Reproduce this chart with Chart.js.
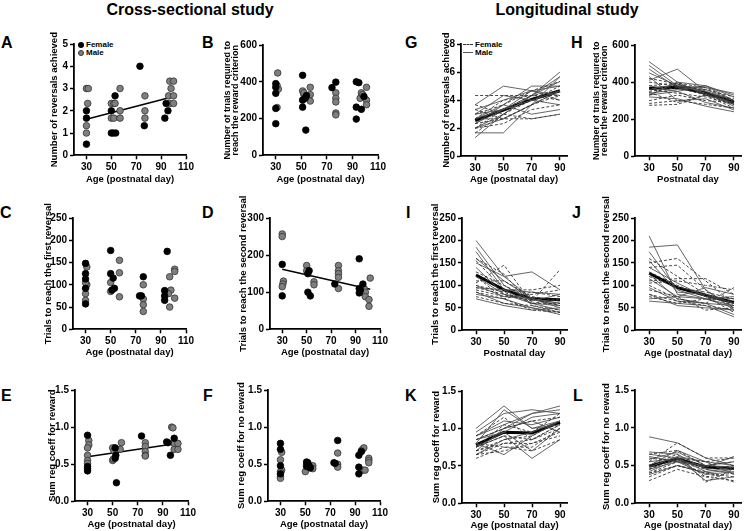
<!DOCTYPE html>
<html>
<head>
<meta charset="utf-8">
<script src="https://cdn.jsdelivr.net/npm/chart.js@4.4.1/dist/chart.umd.min.js"></script>
<style>
  body { margin: 0; width: 750px; height: 531px; overflow: hidden; background: #fff; position: relative; font-family: "Liberation Sans", Arial, sans-serif; }
  canvas { position: absolute; }
  .head { position: absolute; top: 1px; font-weight: bold; font-size: 16px; transform: translateX(-50%); white-space: nowrap; }
  .letter { position: absolute; font-weight: bold; font-size: 16px; line-height: 16px; }
  .lg { position: absolute; font-weight: bold; font-size: 8px; line-height: 8px; white-space: nowrap; }
  .dot { display: inline-block; width: 6px; height: 6px; border-radius: 50%; margin-right: 2px; vertical-align: -0.5px; box-sizing: border-box; }
  .dot.f { background: #000; }
  .dot.m { background: #7f7f7f; border: 1px solid #333; }
  .ln { display: inline-block; width: 10px; margin-right: 2px; vertical-align: 2px; }
  .ln.f { border-top: 1px dashed #333; }
  .ln.m { border-top: 1px solid #555; }
</style>
</head>
<body>
<div class="head" style="left:190px">Cross-sectional study</div>
<div class="head" style="left:567px">Longitudinal study</div>

<div class="letter" style="left:1px;top:35px">A</div>
<div class="letter" style="left:202px;top:35px">B</div>
<div class="letter" style="left:0px;top:205px">C</div>
<div class="letter" style="left:202px;top:205px">D</div>
<div class="letter" style="left:1px;top:388px">E</div>
<div class="letter" style="left:203px;top:388px">F</div>
<div class="letter" style="left:405px;top:35px">G</div>
<div class="letter" style="left:571px;top:35px">H</div>
<div class="letter" style="left:406px;top:205px">I</div>
<div class="letter" style="left:572px;top:205px">J</div>
<div class="letter" style="left:405px;top:388px">K</div>
<div class="letter" style="left:573px;top:388px">L</div>

<div class="lg" style="left:78px;top:41px"><span class="dot f"></span>Female<br><span class="dot m"></span>Male</div>
<div class="lg" style="left:463px;top:41px"><span class="ln f"></span>Female<br><span class="ln m"></span>Male</div>

<script>
// ---- cross-sectional data: [age, value] ----
const aFemale = [[30,0.5],[30,1.67],[30,2.0],[50,1.0],[51.5,1.0],[53.5,1.0],[50,2.0],[53,2.67],[73,4.0],[76.5,1.33],[93,1.67],[94,2.33],[95.5,2.0]];
const aMale = [[30,1.0],[30,1.33],[31,2.33],[30,3.0],[31.5,3.0],[50,1.67],[52,1.67],[50,2.33],[52,2.33],[53,2.33],[57,1.67],[57,2.0],[57,3.0],[77,1.67],[77,2.0],[77,2.67],[97,3.33],[100,3.33],[98,3.0],[96,2.67],[100,2.67],[97,2.33],[100,2.33]];
const aFit = [[30,1.62],[101,2.65]];

const bFemale = [[30,390],[30,370],[30,337],[30,255],[30,172],[51,435],[51,300],[53,310],[54,325],[51,262],[53.5,137],[77,398],[74,368],[93,400],[95,395],[93,262],[93,197],[97,250],[99,320]];
const bMale = [[31.5,448],[31,380],[32,360],[31,260],[51,350],[52,330],[52,340],[57,370],[57,330],[57,295],[77,340],[77,310],[77,290],[77,230],[77,220],[97,340],[96,310],[98,330],[101,370],[101,300],[101,275]];

const cFemale = [[30,148],[30,125],[30,113],[30,92],[30,57],[50,177],[50,125],[52,115],[53,92],[51,88],[76,118],[73,75],[74.5,75],[95,175],[93,87],[93,75],[93,65]];
const cMale = [[31,140],[31,100],[30,80],[30,65],[30,105],[50,105],[50,85],[57,155],[57,127],[57,73],[76,100],[76,68],[76,55],[76,40],[97,118],[98,88],[96,80],[97,50],[101,135],[101,130],[101,70]];

const dFemale = [[30,175],[30,90],[52,158],[51,150],[51,100],[53,90],[73,122],[93,190],[96,122],[93,110],[94,105],[93,98]];
const dMale = [[30,257],[30,250],[31,130],[30.5,122],[30,115],[50,172],[50,158],[56,128],[56,120],[76,172],[76,158],[76,150],[76,140],[76,110],[97,110],[98,100],[98,88],[101,80],[101,62],[102,138]];
const dFit = [[30,162],[102,108]];

const eFemale = [[30,0.89],[30,0.47],[30,0.44],[30,0.41],[52,0.72],[52.5,0.62],[52,0.58],[53,0.25],[73,0.88],[93,0.8],[94,0.79],[99,0.85],[96,0.62]];
const eMale = [[31,0.82],[31,0.76],[30,0.72],[30,0.62],[30,0.55],[30,0.51],[50,0.72],[51,0.68],[50,0.55],[50.5,0.57],[57,0.79],[56,0.7],[76,0.79],[76,0.74],[76,0.67],[76,0.62],[76,0.61],[97,1.0],[98,0.99],[99,0.78],[99,0.7],[102,0.7],[102,0.78]];
const eFit = [[30,0.6],[101,0.78]];

const fFemale = [[30,0.78],[30,0.7],[30,0.48],[30,0.37],[51,0.53],[52,0.52],[53,0.48],[54,0.45],[51,0.47],[76,0.82],[73,0.52],[74,0.51],[93,0.62],[95,0.67],[93,0.46],[93,0.37]];
const fMale = [[31,0.66],[30,0.56],[31,0.42],[30,0.4],[30,0.33],[30,0.31],[51,0.5],[52,0.45],[50,0.4],[56,0.48],[56,0.44],[76,0.65],[76,0.5],[76,0.46],[96,0.7],[97,0.72],[95,0.68],[96,0.42],[98,0.42],[101,0.58],[101,0.55],[101,0.52]];

// ---- longitudinal data: one row per animal at these ages ----
const ages = [30, 50, 70, 90];

const gFemale = [[4.33,4.33,4.33,4.67],[3.67,3.0,2.67,3.0],[2.67,2.67,2.67,3.0],[2.0,3.33,4.33,4.0],[2.33,2.67,3.67,4.33],[3.0,3.67,4.67,5.33],[1.67,3.0,4.0,5.0],[2.67,4.0,4.33,4.33],[3.33,2.67,3.67,4.67],[2.0,2.33,3.33,3.67]];
const gMale = [[3.67,5.0,4.67,4.0],[1.67,1.67,3.67,5.67],[1.33,3.0,4.33,6.0],[2.33,3.67,5.0,5.0],[3.0,4.33,4.0,3.67],[2.67,3.33,4.33,5.33],[2.0,2.67,3.67,4.67],[3.33,4.0,4.67,4.33],[2.67,3.67,3.0,3.33],[2.0,3.0,4.33,5.67],[3.0,3.33,4.67,5.0],[2.33,3.33,4.0,4.67]];
const gMean = [2.55, 3.3, 4.05, 4.67];

const hFemale = [[420,390,350,300],[400,380,360,320],[380,395,370,300],[360,340,320,280],[345,290,330,300],[330,390,330,260],[300,330,300,290],[285,300,280,260],[275,280,330,280],[350,370,330,310]];
const hMale = [[510,400,330,290],[490,380,350,280],[470,370,360,300],[450,380,370,340],[430,300,310,250],[410,470,350,300],[340,360,380,330],[330,350,380,320],[320,310,270,240],[360,390,340,270],[330,400,380,300],[380,350,290,260]];
const hMean = [365, 372, 342, 290];

const iFemale = [[105,145,60,70],[95,80,65,135],[85,70,45,40],[110,110,75,65],[155,90,90,100],[130,100,70,55],[75,60,55,45],[100,85,60,60],[90,75,80,90],[160,125,55,40],[120,70,85,75]];
const iMale = [[200,120,70,50],[185,100,65,80],[175,90,60,55],[150,120,130,90],[140,80,70,60],[120,80,60,45],[100,75,70,55],[85,60,50,40],[80,70,50,35],[70,55,45,50],[95,90,85,80],[160,110,70,60]];
const iMean = [123, 90, 70, 68];

const jFemale = [[150,160,110,60],[140,145,90,50],[110,115,115,80],[100,70,60,95],[90,75,45,50],[120,95,85,70],[80,65,55,45],[160,120,80,55],[105,110,100,90],[75,60,70,65],[130,100,75,40]];
const jMale = [[210,80,70,50],[185,190,90,45],[155,85,80,60],[125,70,60,35],[115,75,95,80],[95,65,60,55],[80,55,50,45],[70,75,70,75],[65,60,55,30],[140,105,75,70],[175,90,70,55]];
const jMean = [127, 95, 78, 62];

const kFemale = [[0.7,0.8,0.85,1.0],[0.65,0.8,0.8,0.95],[0.75,0.9,0.85,1.05],[0.8,0.75,0.75,1.0],[0.7,0.85,0.9,1.1],[0.85,1.0,1.1,1.15],[0.65,0.7,0.8,0.9],[0.75,1.05,0.95,1.2],[0.9,1.15,0.85,1.05],[0.6,0.75,0.7,0.85]];
const kMale = [[1.0,1.3,1.0,1.1],[0.95,1.2,1.25,1.2],[0.85,1.0,1.2,1.3],[0.8,0.65,0.9,1.1],[0.75,0.9,0.6,0.85],[0.9,1.1,1.05,1.15],[0.7,1.0,1.1,0.95],[0.8,1.25,1.0,1.05],[0.85,0.95,0.7,1.0],[0.65,0.85,0.95,1.1],[0.9,1.05,1.2,1.25],[0.75,0.95,1.15,1.2]];
const kMean = [0.78, 0.95, 0.94, 1.08];

const lFemale = [[0.3,0.45,0.35,0.3],[0.4,0.55,0.45,0.5],[0.45,0.6,0.55,0.6],[0.5,0.65,0.28,0.45],[0.35,0.5,0.4,0.35],[0.55,0.8,0.6,0.6],[0.6,0.55,0.5,0.55],[0.45,0.6,0.35,0.4],[0.65,0.7,0.5,0.45],[0.4,0.5,0.42,0.28]];
const lMale = [[0.88,0.8,0.6,0.5],[0.68,0.65,0.45,0.4],[0.62,0.55,0.5,0.55],[0.55,0.6,0.42,0.48],[0.5,0.7,0.55,0.38],[0.42,0.58,0.48,0.62],[0.38,0.5,0.4,0.45],[0.65,0.6,0.3,0.35],[0.48,0.62,0.55,0.5],[0.45,0.55,0.38,0.42],[0.58,0.68,0.5,0.48]];
const lMean = [0.49, 0.59, 0.48, 0.46];

const crossTicks = [30, 50, 70, 90, 110];
const longTicks = [30, 50, 70, 90];
const ageTitle = 'Age (postnatal day)';

Chart.defaults.font.family = '"Liberation Sans", Arial, sans-serif';
Chart.defaults.font.weight = 'bold';
Chart.defaults.color = '#000';

const toXY = pts => pts.map(p => ({x: p[0], y: p[1]}));

function scatterSets(female, male, fit) {
    const sets = [
        {data: toXY(female), backgroundColor: '#000', borderColor: '#000', borderWidth: 0.8, pointRadius: 3.3},
        {data: toXY(male), backgroundColor: '#7f7f7f', borderColor: '#333', borderWidth: 0.8, pointRadius: 3.3}
    ];
    if (fit) {
        sets.push({type: 'line', data: toXY(fit), borderColor: '#000', borderWidth: 1.5, pointRadius: 0});
    }
    return sets;
}

function lineSets(female, male, mean) {
    const sets = [];
    female.forEach(row => sets.push({data: row.map((v, i) => ({x: ages[i], y: v})), borderColor: '#333', borderWidth: 0.9, borderDash: [3, 2], pointRadius: 0}));
    male.forEach(row => sets.push({data: row.map((v, i) => ({x: ages[i], y: v})), borderColor: '#555', borderWidth: 0.9, pointRadius: 0}));
    sets.push({data: mean.map((v, i) => ({x: ages[i], y: v})), borderColor: '#000', borderWidth: 3, pointRadius: 0});
    return sets;
}

function panel(p) {
    const tSize = p.tSize || 9.5;
    const lhY = tSize * (p.yLine || 1.2);
    const lhX = 9.5 * 1.2;
    const padTop = 30, padBottom = 30, padRight = 12;
    const left = Math.round(p.titleX - lhY / 2);
    const yw = p.axisX - left;
    const xh = p.xTitleY + lhX / 2 - p.bottom;
    const w = Math.round(yw + p.right - p.axisX + padRight);
    const h = Math.round(padTop + p.bottom - p.top + xh + padBottom);

    const cv = document.createElement('canvas');
    cv.width = w;
    cv.height = h;
    cv.style.left = left + 'px';
    cv.style.top = (p.top - padTop) + 'px';
    cv.style.width = w + 'px';
    cv.style.height = h + 'px';
    document.body.appendChild(cv);

    const gridOpts = {display: true, drawOnChartArea: false, tickLength: 4, tickWidth: 1.5, tickColor: '#000'};
    const borderOpts = {display: true, color: '#000', width: 1.8};

    new Chart(cv.getContext('2d'), {
        type: p.type,
        data: {datasets: p.datasets},
        options: {
            responsive: false,
            animation: false,
            devicePixelRatio: 1,
            layout: {padding: {top: padTop, right: padRight, bottom: padBottom, left: 0}},
            plugins: {legend: {display: false}, tooltip: {enabled: false}},
            elements: {line: {tension: 0}},
            scales: {
                x: {
                    type: 'linear',
                    min: p.xMin,
                    max: p.xMax,
                    afterBuildTicks: s => { s.ticks = p.xTicks.map(v => ({value: v})); },
                    afterFit: s => { s.height = xh; },
                    grid: gridOpts,
                    border: borderOpts,
                    ticks: {font: {size: 10, weight: 'bold'}, color: '#000', padding: 2, maxRotation: 0, autoSkip: false},
                    title: {display: true, text: p.xTitle, font: {size: 9.5, weight: 'bold'}, color: '#000', padding: 0}
                },
                y: {
                    min: p.yMin,
                    max: p.yMax,
                    afterFit: s => { s.width = yw; },
                    grid: gridOpts,
                    border: borderOpts,
                    ticks: {
                        stepSize: p.yStep,
                        font: {size: 10, weight: 'bold'},
                        color: '#000',
                        padding: 2,
                        callback: v => p.yDec ? v.toFixed(p.yDec) : v
                    },
                    title: {display: true, text: p.yTitle, font: {size: tSize, weight: 'bold', lineHeight: p.yLine || 1.2}, color: '#000', padding: 0}
                }
            }
        }
    });
}

// cross-sectional column
panel({type: 'scatter', axisX: 74, top: 44, right: 186, bottom: 155, titleX: 55, xTitleY: 179,
    xMin: 20, xMax: 110, xTicks: crossTicks, xTitle: ageTitle, yMin: 0, yMax: 5, yStep: 1,
    yTitle: 'Number of reversals achieved', datasets: scatterSets(aFemale, aMale, aFit)});
panel({type: 'scatter', axisX: 263, top: 45, right: 378, bottom: 155, titleX: 228, xTitleY: 179, tSize: 9, yLine: 0.85,
    xMin: 20, xMax: 110, xTicks: crossTicks, xTitle: ageTitle, yMin: 0, yMax: 600, yStep: 200,
    yTitle: ['Number of trials required to', 'reach the reward criterion'], datasets: scatterSets(bFemale, bMale)});
panel({type: 'scatter', axisX: 73, top: 218, right: 186, bottom: 329, titleX: 49, xTitleY: 352,
    xMin: 20, xMax: 110, xTicks: crossTicks, xTitle: ageTitle, yMin: 0, yMax: 250, yStep: 50,
    yTitle: 'Trials to reach the first reversal', datasets: scatterSets(cFemale, cMale)});
panel({type: 'scatter', axisX: 270, top: 218, right: 380, bottom: 329, titleX: 244, xTitleY: 352,
    xMin: 20, xMax: 110, xTicks: crossTicks, xTitle: ageTitle, yMin: 0, yMax: 300, yStep: 100,
    yTitle: 'Trials to reach the second reversal', datasets: scatterSets(dFemale, dMale, dFit)});
panel({type: 'scatter', axisX: 75, top: 390, right: 188, bottom: 501, titleX: 53, xTitleY: 524,
    xMin: 20, xMax: 110, xTicks: crossTicks, xTitle: ageTitle, yMin: 0, yMax: 1.5, yStep: 0.5, yDec: 1,
    yTitle: 'Sum reg coeff for reward', datasets: scatterSets(eFemale, eMale, eFit)});
panel({type: 'scatter', axisX: 268, top: 390, right: 380, bottom: 501, titleX: 242, xTitleY: 524,
    xMin: 20, xMax: 110, xTicks: crossTicks, xTitle: ageTitle, yMin: 0, yMax: 1.5, yStep: 0.5, yDec: 1,
    yTitle: 'Sum reg coeff for no reward', datasets: scatterSets(fFemale, fMale)});

// longitudinal column
panel({type: 'line', axisX: 461, top: 44, right: 567, bottom: 156, titleX: 447, xTitleY: 179,
    xMin: 20, xMax: 95, xTicks: longTicks, xTitle: ageTitle, yMin: 0, yMax: 8, yStep: 2,
    yTitle: 'Number of reversals achieved', datasets: lineSets(gFemale, gMale, gMean)});
panel({type: 'line', axisX: 635, top: 45, right: 741, bottom: 156, titleX: 597, xTitleY: 179, tSize: 9, yLine: 0.85,
    xMin: 20, xMax: 95, xTicks: longTicks, xTitle: 'Postnatal day', yMin: 0, yMax: 600, yStep: 200,
    yTitle: ['Number of trials required to', 'reach the reward criterion'], datasets: lineSets(hFemale, hMale, hMean)});
panel({type: 'line', axisX: 462, top: 218, right: 567, bottom: 330, titleX: 436, xTitleY: 353,
    xMin: 20, xMax: 95, xTicks: longTicks, xTitle: 'Postnatal day', yMin: 0, yMax: 250, yStep: 50,
    yTitle: 'Trials to reach the first reversal', datasets: lineSets(iFemale, iMale, iMean)});
panel({type: 'line', axisX: 635, top: 218, right: 741, bottom: 330, titleX: 607, xTitleY: 353,
    xMin: 20, xMax: 95, xTicks: longTicks, xTitle: ageTitle, yMin: 0, yMax: 250, yStep: 50,
    yTitle: 'Trials to reach the second reversal', datasets: lineSets(jFemale, jMale, jMean)});
panel({type: 'line', axisX: 462, top: 391, right: 567, bottom: 503, titleX: 437, xTitleY: 525,
    xMin: 20, xMax: 95, xTicks: longTicks, xTitle: ageTitle, yMin: 0, yMax: 1.5, yStep: 0.5, yDec: 1,
    yTitle: 'Sum reg coeff for reward', datasets: lineSets(kFemale, kMale, kMean)});
panel({type: 'line', axisX: 635, top: 390, right: 741, bottom: 503, titleX: 607, xTitleY: 525,
    xMin: 20, xMax: 95, xTicks: longTicks, xTitle: ageTitle, yMin: 0, yMax: 1.5, yStep: 0.5, yDec: 1,
    yTitle: 'Sum reg coeff for no reward', datasets: lineSets(lFemale, lMale, lMean)});
</script>
</body>
</html>
